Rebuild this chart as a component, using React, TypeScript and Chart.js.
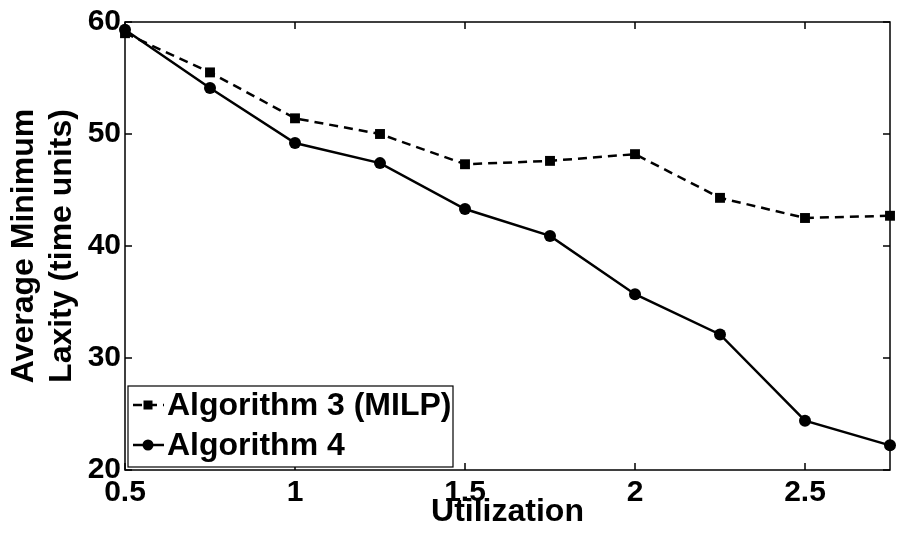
import React, { useEffect, useRef } from "react";
import { Chart, registerables } from "chart.js";

Chart.register(...registerables);

const utilization = [0.5, 0.75, 1.0, 1.25, 1.5, 1.75, 2.0, 2.25, 2.5, 2.75];
const algorithm3 = [59.0, 55.5, 51.4, 50.0, 47.3, 47.6, 48.2, 44.3, 42.5, 42.7];
const algorithm4 = [59.3, 54.1, 49.2, 47.4, 43.3, 40.9, 35.7, 32.1, 24.4, 22.2];
const xTickValues = [0.5, 1, 1.5, 2, 2.5];
const yTickValues = [20, 30, 40, 50, 60];
const seriesLabels = ["Algorithm 3 (MILP)", "Algorithm 4"];
const xTitle = "Utilization";
const yTitle = ["Average Minimum", "Laxity (time units)"];

const FONT = "'Liberation Sans', Arial, Helvetica, sans-serif";

const framePlugin = {
  id: "framePlugin",
  afterDraw(chart: any) {
    const { ctx, chartArea } = chart;
    const { left, right, top, bottom } = chartArea;
    const xs = chart.scales.x;
    const ys = chart.scales.y;
    ctx.save();
    ctx.strokeStyle = "#000";
    ctx.lineWidth = 1.5;
    ctx.setLineDash([]);
    ctx.strokeRect(left, top, right - left, bottom - top);
    const tl = 7;
    ctx.beginPath();
    xTickValues.forEach((v) => {
      const px = xs.getPixelForValue(v);
      ctx.moveTo(px, bottom);
      ctx.lineTo(px, bottom - tl);
      ctx.moveTo(px, top);
      ctx.lineTo(px, top + tl);
    });
    yTickValues.forEach((v) => {
      const py = ys.getPixelForValue(v);
      ctx.moveTo(left, py);
      ctx.lineTo(left + tl, py);
      ctx.moveTo(right, py);
      ctx.lineTo(right - tl, py);
    });
    ctx.stroke();

    // legend box
    const bx = left + 3;
    const by = 386;
    const bw = 325;
    const bh = 81;
    ctx.fillStyle = "#fff";
    ctx.fillRect(bx, by, bw, bh);
    ctx.lineWidth = 1.2;
    ctx.strokeRect(bx, by, bw, bh);
    const rows = [405, 445];
    chart.data.datasets.forEach((ds: any, i: number) => {
      const y = rows[i];
      ctx.save();
      ctx.strokeStyle = "#000";
      ctx.lineWidth = ds.borderWidth;
      ctx.setLineDash(ds.borderDash || []);
      ctx.beginPath();
      ctx.moveTo(bx + 5, y);
      ctx.lineTo(bx + 36, y);
      ctx.stroke();
      ctx.restore();
      ctx.fillStyle = "#000";
      const cx = bx + 20;
      if (ds.pointStyle === "rect") {
        ctx.fillRect(cx - 4.5, y - 4.5, 9, 9);
      } else {
        ctx.beginPath();
        ctx.arc(cx, y, 5.5, 0, Math.PI * 2);
        ctx.fill();
      }
      ctx.font = `bold 32px ${FONT}`;
      ctx.textBaseline = "middle";
      ctx.textAlign = "left";
      ctx.fillText(ds.label, bx + 39, y + 1);
    });
    ctx.restore();
  },
};

export default function App() {
  const ref = useRef<HTMLCanvasElement>(null);
  useEffect(() => {
    document.body.style.margin = "0";
    const chart = new Chart(ref.current!, {
      type: "line",
      data: {
        datasets: [
          {
            label: seriesLabels[0],
            data: utilization.map((x, i) => ({ x, y: algorithm3[i] })),
            borderColor: "#000",
            backgroundColor: "#000",
            borderWidth: 2.5,
            borderDash: [9, 6],
            pointStyle: "rect",
            pointRadius: 7,
            pointBorderWidth: 0,
            clip: false as any,
          },
          {
            label: seriesLabels[1],
            data: utilization.map((x, i) => ({ x, y: algorithm4[i] })),
            borderColor: "#000",
            backgroundColor: "#000",
            borderWidth: 2.5,
            pointStyle: "circle",
            pointRadius: 6,
            pointBorderWidth: 0,
            clip: false as any,
          },
        ],
      },
      options: {
        animation: false,
        responsive: false,
        maintainAspectRatio: false,
        layout: { padding: { left: 0, right: 1, top: 20, bottom: 0 } },
        plugins: { legend: { display: false }, tooltip: { enabled: false } },
        scales: {
          x: {
            type: "linear",
            min: 0.5,
            max: 2.75,
            grid: { display: false, drawTicks: false },
            border: { display: false },
            afterBuildTicks: (s: any) => {
              s.ticks = xTickValues.map((v) => ({ value: v }));
            },
            afterFit: (s: any) => {
              s.height = 66;
            },
            ticks: {
              color: "#000",
              padding: 5,
              maxRotation: 0,
              autoSkip: false,
              font: { family: FONT, size: 30, weight: "bold", lineHeight: 1.2 },
              callback: (v: any) => String(v),
            },
            title: {
              display: true,
              text: xTitle,
              color: "#000",
              padding: { top: 0, bottom: 5 },
              font: { family: FONT, size: 32, weight: "bold", lineHeight: 1.2 },
            },
          },
          y: {
            type: "linear",
            min: 20,
            max: 60,
            grid: { display: false, drawTicks: false },
            border: { display: false },
            afterBuildTicks: (s: any) => {
              s.ticks = yTickValues.map((v) => ({ value: v }));
            },
            afterFit: (s: any) => {
              s.width = 125;
            },
            ticks: {
              color: "#000",
              padding: 4,
              autoSkip: false,
              font: { family: FONT, size: 30, weight: "bold", lineHeight: 1.2 },
              callback: (v: any) => String(v),
            },
            title: {
              display: true,
              text: yTitle,
              color: "#000",
              padding: { top: 5, bottom: 0 },
              font: { family: FONT, size: 32, weight: "bold", lineHeight: 1.2 },
            },
          },
        },
      },
      plugins: [framePlugin],
    });
    return () => chart.destroy();
  }, []);
  return (
    <div style={{ width: 897, height: 536 }}>
      <canvas ref={ref} width={897} height={536} style={{ width: 897, height: 536, display: "block" }} />
    </div>
  );
}
